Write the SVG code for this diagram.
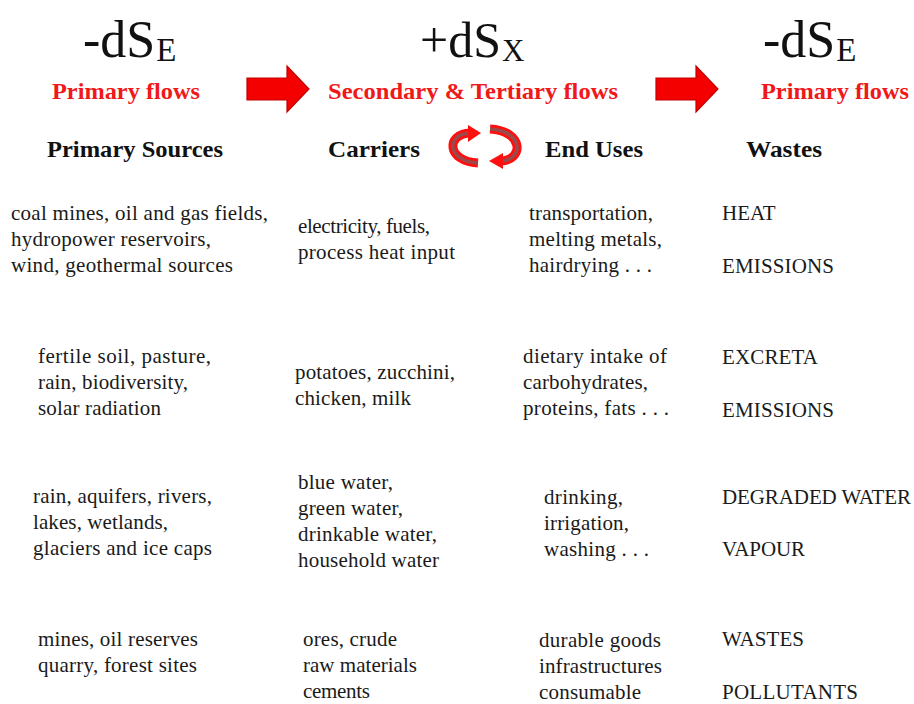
<svg xmlns="http://www.w3.org/2000/svg" width="914" height="704" viewBox="0 0 914 704">
<defs>
<style>
text{font-family:"Liberation Serif","Times New Roman",serif}
.big{font-size:52px;fill:#111}
.sub{font-size:33px}
.red{font-size:24px;font-weight:bold;fill:#f01818}
.hd{font-size:24px;font-weight:bold;fill:#111}
.t{font-size:21px;fill:#1a1a1a}
.arr{fill:#f40000;stroke:#c00000;stroke-width:1.2;stroke-linejoin:miter}
.ring{fill:none;stroke:#ff1010;stroke-width:9;stroke-linecap:butt}
.ringin{fill:none;stroke:#9a4a4a;stroke-width:3.5}
</style>
</defs>
<rect width="914" height="704" fill="#fff"/>

<g id="header-left">
<text class="big" x="83" y="57">-dS<tspan class="sub" dx="1" dy="4">E</tspan></text>
<text class="red" x="52" y="99" textLength="148" lengthAdjust="spacingAndGlyphs">Primary flows</text>
</g>
<g id="header-mid">
<text class="big" x="420" y="57" style="font-size:50px">+dS<tspan class="sub" dx="1" dy="4" style="font-size:31px">X</tspan></text>
<text class="red" x="328" y="99" textLength="290" lengthAdjust="spacingAndGlyphs">Secondary &amp; Tertiary flows</text>
</g>
<g id="header-right">
<text class="big" x="763" y="57">-dS<tspan class="sub" dx="1" dy="4">E</tspan></text>
<text class="red" x="761" y="99" textLength="148" lengthAdjust="spacingAndGlyphs">Primary flows</text>
</g>

<g id="connectors">
<polygon class="arr" points="247,78 287,78 287,66 309,89 287,112 287,100 247,100"/>
<polygon class="arr" points="656,78 696,78 696,66 718,89 696,112 696,100 656,100"/>
<g id="cycle">
<path class="ring" d="M478 163 C446 161 446 134 470 133"/>
<path class="ringin" d="M478 163 C446 161 446 134 470 133"/>
<polygon points="468,125 481,133 468,142" fill="#ff1010"/>
<path class="ring" d="M490 129 C524 131 524 160 501 161"/>
<path class="ringin" d="M490 129 C524 131 524 160 501 161"/>
<polygon points="503,153 489,161 503,169" fill="#ff1010"/>
</g>
</g>

<g id="col-sources"><text class="hd" x="47" y="157" textLength="176" lengthAdjust="spacingAndGlyphs">Primary Sources</text></g>
<g id="col-carriers"><text class="hd" x="328" y="157" textLength="92" lengthAdjust="spacingAndGlyphs">Carriers</text></g>
<g id="col-enduses"><text class="hd" x="545" y="157" textLength="98" lengthAdjust="spacingAndGlyphs">End Uses</text></g>
<g id="col-wastes"><text class="hd" x="746" y="157" textLength="76" lengthAdjust="spacingAndGlyphs">Wastes</text></g>

<g id="energy-sources">
<text class="t" x="11" y="220" textLength="257" lengthAdjust="spacing">coal mines, oil and gas fields,</text>
<text class="t" x="11" y="246" textLength="200" lengthAdjust="spacing">hydropower reservoirs,</text>
<text class="t" x="11" y="272" textLength="222" lengthAdjust="spacing">wind, geothermal sources</text>
</g>
<g id="energy-carriers">
<text class="t" x="298" y="233" textLength="132" lengthAdjust="spacing">electricity, fuels,</text>
<text class="t" x="298" y="259" textLength="157" lengthAdjust="spacing">process heat input</text>
</g>
<g id="energy-enduses">
<text class="t" x="529" y="220" textLength="124" lengthAdjust="spacing">transportation,</text>
<text class="t" x="529" y="246" textLength="133" lengthAdjust="spacing">melting metals,</text>
<text class="t" x="529" y="272" textLength="123" lengthAdjust="spacing">hairdrying . . .</text>
</g>
<g id="energy-wastes">
<text class="t" x="722" y="220">HEAT</text>
<text class="t" x="722" y="273" textLength="112" lengthAdjust="spacing">EMISSIONS</text>
</g>

<g id="food-sources">
<text class="t" x="38" y="363" textLength="173" lengthAdjust="spacing">fertile soil, pasture,</text>
<text class="t" x="38" y="389" textLength="150" lengthAdjust="spacing">rain, biodiversity,</text>
<text class="t" x="38" y="415" textLength="123" lengthAdjust="spacing">solar radiation</text>
</g>
<g id="food-carriers">
<text class="t" x="295" y="379" textLength="160" lengthAdjust="spacing">potatoes, zucchini,</text>
<text class="t" x="295" y="405" textLength="116" lengthAdjust="spacing">chicken, milk</text>
</g>
<g id="food-enduses">
<text class="t" x="523" y="363" textLength="144" lengthAdjust="spacing">dietary intake of</text>
<text class="t" x="523" y="389" textLength="125" lengthAdjust="spacing">carbohydrates,</text>
<text class="t" x="523" y="415" textLength="146" lengthAdjust="spacing">proteins, fats . . .</text>
</g>
<g id="food-wastes">
<text class="t" x="722" y="364" textLength="96" lengthAdjust="spacing">EXCRETA</text>
<text class="t" x="722" y="417" textLength="112" lengthAdjust="spacing">EMISSIONS</text>
</g>

<g id="water-sources">
<text class="t" x="33" y="503" textLength="179" lengthAdjust="spacing">rain, aquifers, rivers,</text>
<text class="t" x="33" y="529" textLength="135" lengthAdjust="spacing">lakes, wetlands,</text>
<text class="t" x="33" y="555" textLength="179" lengthAdjust="spacing">glaciers and ice caps</text>
</g>
<g id="water-carriers">
<text class="t" x="298" y="489" textLength="95" lengthAdjust="spacing">blue water,</text>
<text class="t" x="298" y="515" textLength="105" lengthAdjust="spacing">green water,</text>
<text class="t" x="298" y="541" textLength="139" lengthAdjust="spacing">drinkable water,</text>
<text class="t" x="298" y="567" textLength="141" lengthAdjust="spacing">household water</text>
</g>
<g id="water-enduses">
<text class="t" x="544" y="504" textLength="79" lengthAdjust="spacing">drinking,</text>
<text class="t" x="544" y="530" textLength="85" lengthAdjust="spacing">irrigation,</text>
<text class="t" x="544" y="556" textLength="105" lengthAdjust="spacing">washing . . .</text>
</g>
<g id="water-wastes">
<text class="t" x="722" y="504" textLength="189" lengthAdjust="spacing">DEGRADED WATER</text>
<text class="t" x="722" y="556" textLength="83" lengthAdjust="spacing">VAPOUR</text>
</g>

<g id="materials-sources">
<text class="t" x="38" y="646" textLength="160" lengthAdjust="spacing">mines, oil reserves</text>
<text class="t" x="38" y="672" textLength="159" lengthAdjust="spacing">quarry, forest sites</text>
</g>
<g id="materials-carriers">
<text class="t" x="303" y="646" textLength="94" lengthAdjust="spacing">ores, crude</text>
<text class="t" x="303" y="672" textLength="114" lengthAdjust="spacing">raw materials</text>
<text class="t" x="303" y="698" textLength="67" lengthAdjust="spacing">cements</text>
</g>
<g id="materials-enduses">
<text class="t" x="539" y="647" textLength="122" lengthAdjust="spacing">durable goods</text>
<text class="t" x="539" y="673" textLength="123" lengthAdjust="spacing">infrastructures</text>
<text class="t" x="539" y="699" textLength="102" lengthAdjust="spacing">consumable</text>
</g>
<g id="materials-wastes">
<text class="t" x="722" y="646" textLength="82" lengthAdjust="spacing">WASTES</text>
<text class="t" x="722" y="699" textLength="136" lengthAdjust="spacing">POLLUTANTS</text>
</g>
</svg>
